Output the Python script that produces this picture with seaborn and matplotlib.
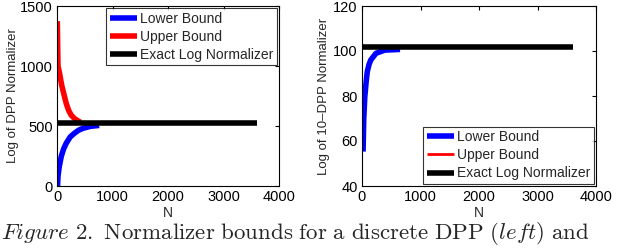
import matplotlib
matplotlib.use("Agg")
import matplotlib.pyplot as plt
import pandas as pd
import seaborn as sns

# left panel: discrete DPP
n_lo_left = [10, 18, 40, 77, 120, 167, 240, 315, 390, 464, 600, 760]
lower_left = [0, 82, 160, 247, 310, 357, 410, 440, 465, 480, 497, 505]
n_up_left = [5, 18, 48, 80, 107, 167, 210, 256, 320, 375, 420]
upper_left = [1374, 1000, 934, 850, 797, 687, 630, 590, 560, 544, 532]
n_exact_left = [0, 3600]
exact_left = [525, 525]

# right panel: 10-DPP
n_lo_right = [18, 30, 48, 70, 90, 120, 150, 240, 390, 650]
lower_right = [55.3, 70, 79.7, 86, 90.8, 94, 96, 99, 100.4, 100.7]
n_up_right = [0, 8]
upper_right = [102.8, 102.6]
n_exact_right = [0, 3600]
exact_right = [101.6, 101.6]

sns.set_theme(style="white")
plt.rcParams["font.family"] = ["Liberation Sans", "DejaVu Sans"]
plt.rcParams["mathtext.fontset"] = "cm"
plt.rcParams["lines.solid_capstyle"] = "butt"

fig = plt.figure(figsize=(6.4, 2.48), dpi=100)
ax1 = fig.add_axes([57 / 640, 1 - 186 / 248, 222 / 640, 180 / 248])
ax2 = fig.add_axes([362 / 640, 1 - 186 / 248, 234 / 640, 180 / 248])


def panel(ax, nlo, lo, nup, up, nex, ex, up_lw):
    sns.lineplot(x=nlo, y=lo, ax=ax, color="blue", lw=4, label="Lower Bound")
    sns.lineplot(x=nup, y=up, ax=ax, color="red", lw=up_lw, label="Upper Bound")
    sns.lineplot(x=nex, y=ex, ax=ax, color="black", lw=4, label="Exact Log Normalizer")
    for ln in ax.get_lines():
        ln.set_solid_capstyle("butt")
    ax.set_xlim(0, 4000)
    ax.set_xticks([0, 1000, 2000, 3000, 4000])
    ax.set_xlabel("N", fontsize=10, labelpad=1)
    ax.tick_params(direction="in", top=True, right=True, length=3, width=0.8,
                   labelsize=10.5, colors="black", pad=3)
    for s in ax.spines.values():
        s.set_color("black")
        s.set_linewidth(0.8)


def legend(ax, loc):
    leg = ax.legend(loc=loc, fontsize=10, frameon=True, fancybox=False,
                    borderpad=0.25, labelspacing=0.3, handlelength=2.0,
                    handletextpad=0.2, borderaxespad=0.15)
    leg.get_frame().set_edgecolor("black")
    leg.get_frame().set_linewidth(0.8)
    for ln in leg.get_lines():
        ln.set_solid_capstyle("butt")


panel(ax1, n_lo_left, lower_left, n_up_left, upper_left, n_exact_left, exact_left, 4)
ax1.set_ylim(0, 1500)
ax1.set_yticks([0, 500, 1000, 1500])
ax1.set_ylabel("Log of DPP Normalizer", fontsize=9.5, labelpad=1)
legend(ax1, "upper right")

panel(ax2, n_lo_right, lower_right, n_up_right, upper_right, n_exact_right, exact_right, 2)
ax2.set_ylim(40, 120)
ax2.set_yticks([40, 60, 80, 100, 120])
ax2.set_ylabel("Log of 10\u2013DPP Normalizer", fontsize=9.5, labelpad=2)
legend(ax2, "lower right")

fig.text(0.002, 9 / 248,
         r"$\mathit{Figure\ 2.}\ \mathrm{Normalizer\ bounds\ for\ a\ discrete\ DPP\ (}\mathit{left}\mathrm{)\ and}$",
         fontsize=16.5, va="baseline", ha="left")

fig.savefig("out.png", dpi=100)
